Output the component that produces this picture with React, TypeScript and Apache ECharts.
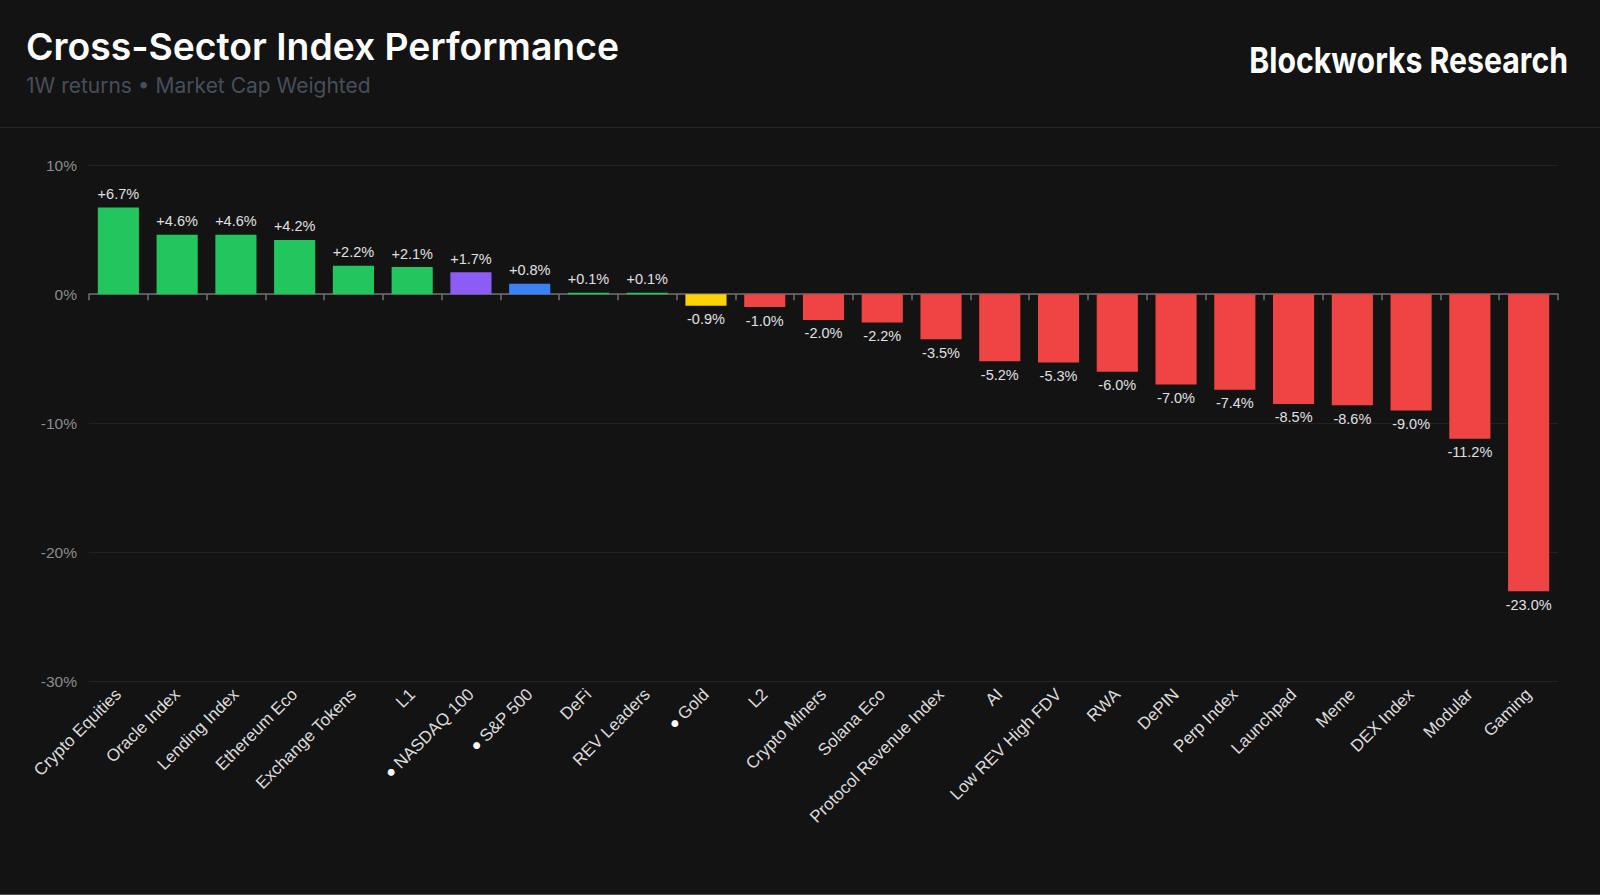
import React, { useEffect, useRef } from "react";
import * as echarts from "echarts";

const categories = [
  "Crypto Equities", "Oracle Index", "Lending Index", "Ethereum Eco", "Exchange Tokens",
  "L1", "NASDAQ 100", "S&P 500", "DeFi", "REV Leaders", "Gold", "L2", "Crypto Miners",
  "Solana Eco", "Protocol Revenue Index", "AI", "Low REV High FDV", "RWA", "DePIN",
  "Perp Index", "Launchpad", "Meme", "DEX Index", "Modular", "Gaming",
];
const values = [
  6.7, 4.6, 4.6, 4.2, 2.2, 2.1, 1.7, 0.8, 0.1, 0.1, -0.9, -1.0, -2.0, -2.2, -3.5,
  -5.2, -5.3, -6.0, -7.0, -7.4, -8.5, -8.6, -9.0, -11.2, -23.0,
];
const benchmarks = ["NASDAQ 100", "S&P 500", "Gold"];
const yTicks = { min: -30, max: 10, interval: 10 };

const TITLE = "Cross-Sector Index Performance";
const SUBTITLE = "1W returns \u2022 Market Cap Weighted";
const BRAND = "Blockworks Research";

const COLORS: Record<string, string> = {
  up: "#22c55e",
  down: "#ef4444",
  "NASDAQ 100": "#8b5cf6",
  "S&P 500": "#3b82f6",
  Gold: "#fcd307",
};

function colorFor(i: number): string {
  const c = categories[i];
  if (COLORS[c] && benchmarks.includes(c)) return COLORS[c];
  return values[i] >= 0 ? COLORS.up : COLORS.down;
}

export default function App() {
  const ref = useRef<HTMLDivElement>(null);
  useEffect(() => {
    if (!ref.current) return;
    const chart = echarts.init(ref.current, undefined, { renderer: "svg" });
    const chartFont = "'Liberation Sans', Arial, Helvetica, sans-serif";
    chart.setOption({
      animation: false,
      backgroundColor: "#131313",
      grid: { left: 89, right: 42, top: 165, bottom: 213.4, containLabel: false },
      graphic: [
        {
          type: "text",
          x: 26,
          y: 46,
          style: {
            text: TITLE,
            fill: "#ffffff",
            font: "600 37.3px Inter, 'Noto Sans', sans-serif",
            align: "left",
            verticalAlign: "middle",
          },
        },
        {
          type: "text",
          x: 26,
          y: 85,
          style: {
            text: SUBTITLE,
            fill: "#474e5b",
            font: "400 21px Inter, 'Noto Sans', sans-serif",
            align: "left",
            verticalAlign: "middle",
          },
        },
        {
          type: "text",
          x: 1568,
          y: 60,
          scaleX: 0.84,
          style: {
            text: BRAND,
            fill: "#ffffff",
            font: "700 36px Inter, 'Noto Sans', sans-serif",
            align: "right",
            verticalAlign: "middle",
          },
        },
        {
          type: "line",
          shape: { x1: 0, y1: 127.5, x2: 1600, y2: 127.5 },
          style: { stroke: "#262626", lineWidth: 1 },
        },
        {
          type: "line",
          shape: { x1: 0, y1: 894.5, x2: 1600, y2: 894.5 },
          style: { stroke: "#4a4a4a", lineWidth: 1 },
        },
      ],
      xAxis: [
        {
          type: "category",
          data: categories,
          position: "bottom",
          axisLine: { show: false, onZero: false },
          axisTick: { show: false },
          splitLine: { show: false },
          axisLabel: {
            interval: 0,
            rotate: 45,
            margin: 10,
            color: "#dcdcdc",
            fontSize: 17,
            fontFamily: chartFont,
            formatter: (v: string) => (benchmarks.includes(v) ? "{dot|\u25CF} " + v : v),
            rich: {
              dot: { fontSize: 9, color: "#ffffff", fontFamily: "'DejaVu Sans', sans-serif" },
            },
          },
        },
        {
          type: "category",
          data: categories,
          position: "top",
          axisLine: { show: true, onZero: true, lineStyle: { color: "#707070", width: 1.5 } },
          axisTick: {
            show: true,
            inside: true,
            interval: 0,
            length: 6,
            lineStyle: { color: "#707070", width: 1.5 },
          },
          axisLabel: { show: false },
          splitLine: { show: false },
        },
      ],
      yAxis: {
        type: "value",
        min: yTicks.min,
        max: yTicks.max,
        interval: yTicks.interval,
        axisLine: { show: false },
        axisTick: { show: false },
        splitLine: { lineStyle: { color: "#222222", width: 1 } },
        axisLabel: {
          formatter: "{value}%",
          color: "#8c8c8c",
          fontSize: 15.5,
          margin: 12,
          fontFamily: chartFont,
        },
      },
      series: [
        {
          type: "bar",
          xAxisIndex: 0,
          barWidth: "70%",
          data: values.map((v, i) => ({
            value: v,
            itemStyle: { color: colorFor(i) },
            label: { position: v >= 0 ? "top" : "bottom" },
          })),
          label: {
            show: true,
            distance: 6,
            color: "#e0e0e0",
            fontSize: 14.5,
            fontFamily: chartFont,
            formatter: (p: any) => (p.value > 0 ? "+" : "") + Number(p.value).toFixed(1) + "%",
          },
        },
      ],
    });
    return () => chart.dispose();
  }, []);
  return (
    <div
      ref={ref}
      style={{ position: "absolute", left: 0, top: 0, width: 1600, height: 895, background: "#131313" }}
    />
  );
}
